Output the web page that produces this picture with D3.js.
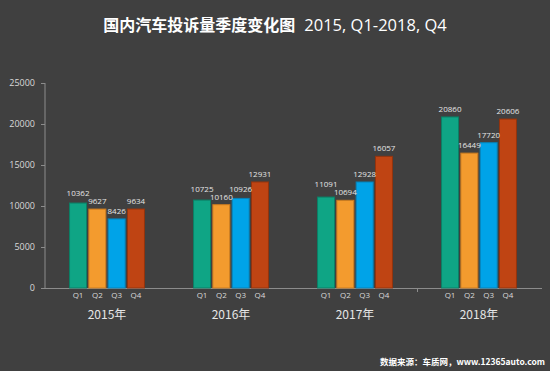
<!DOCTYPE html>
<html>
<head>
<meta charset="utf-8">
<script src="https://cdn.jsdelivr.net/npm/d3@7"></script>
<style>
  html, body { margin: 0; padding: 0; background: #404040; }
  svg { display: block; }
  text { font-family: "Noto Sans CJK SC", "Noto Sans", sans-serif; }
</style>
</head>
<body>
<div id="chart"></div>
<script>
var years = ['2015年', '2016年', '2017年', '2018年'];
var quarters = ['Q1', 'Q2', 'Q3', 'Q4'];
var values_2015 = [10362, 9627, 8426, 9634];
var values_2016 = [10725, 10160, 10926, 12931];
var values_2017 = [11091, 10694, 12928, 16057];
var values_2018 = [20860, 16449, 17720, 20606];
var y_ticks = [0, 5000, 10000, 15000, 20000, 25000];
var quarter_colors = ['#0fa585', '#f39b2e', '#00a3e8', '#bf4413'];
var quarter_strokes = ['#0b7f66', '#c97a1f', '#0782b8', '#93340e'];

var WIDTH = 550, HEIGHT = 371;

var table = [values_2015, values_2016, values_2017, values_2018].map(function(vals, i){
    return { year: years[i], values: vals.map(function(v, j){ return { q: quarters[j], v: v }; }) };
});

var svg = d3.select('#chart').append('svg')
    .attr('width', WIDTH)
    .attr('height', HEIGHT);

svg.append('rect')
    .attr('width', WIDTH).attr('height', HEIGHT)
    .attr('fill', '#404040');

// title
var title = svg.append('text')
    .attr('x', 275).attr('y', 31)
    .attr('text-anchor', 'middle')
    .attr('fill', '#ffffff')
    .style('font-size', '16px');
title.append('tspan').style('font-weight', 'bold').text('国内汽车投诉量季度变化图');
title.append('tspan').attr('dx', 9)
    .style('font-family', '"Open Sans", sans-serif')
    .style('font-size', '16.5px')
    .text('2015,  Q1-2018,  Q4');

var x = d3.scaleBand().domain(years).range([45, 541]).paddingInner(0).paddingOuter(0);
var xq = d3.scaleBand().domain(quarters).range([0, x.bandwidth()]).paddingInner(0.12).paddingOuter(1.27);
var y = d3.scaleLinear().domain([0, 25000]).range([288, 83]);

// y axis
var y_axis = svg.append('g').attr('transform', 'translate(45,0)')
    .call(d3.axisLeft(y).tickValues(y_ticks).tickSize(4).tickPadding(6).tickFormat(d3.format('d')));
y_axis.selectAll('.domain, line').attr('stroke', '#8c8c8c');
y_axis.select('.domain').attr('d', 'M0,' + y(25000) + 'V' + y(0));
y_axis.selectAll('text')
    .attr('fill', '#d9d9d9')
    .style('font-size', '9px')
    .style('font-family', '"Open Sans", sans-serif');

// x axis line
svg.append('line')
    .attr('x1', 45).attr('x2', 542)
    .attr('y1', y(0) + 0.5).attr('y2', y(0) + 0.5)
    .attr('stroke', '#8c8c8c');
svg.append('line')
    .attr('x1', x('2018年') + 0.5).attr('x2', x('2018年') + 0.5)
    .attr('y1', y(0)).attr('y2', y(0) + 4)
    .attr('stroke', '#8c8c8c');

var groups = svg.selectAll('g.year')
    .data(table).enter().append('g')
    .attr('class', 'year')
    .attr('transform', function(d){ return 'translate(' + x(d.year) + ',0)'; });

groups.selectAll('rect')
    .data(function(d){ return d.values; })
    .enter().append('rect')
    .attr('x', function(d){ return xq(d.q); })
    .attr('y', function(d){ return y(d.v); })
    .attr('width', xq.bandwidth())
    .attr('height', function(d){ return y(0) - y(d.v); })
    .attr('fill', function(d, i){ return quarter_colors[i]; })
    .attr('stroke', function(d, i){ return quarter_strokes[i]; })
    .attr('stroke-width', 1);

var labels = groups.selectAll('text.val')
    .data(function(d){ return d.values; })
    .enter().append('text')
    .attr('class', 'val')
    .attr('x', function(d){ return xq(d.q) + xq.bandwidth() / 2; })
    .attr('y', function(d){ return y(d.v) - 5; })
    .attr('text-anchor', 'middle')
    .attr('fill', '#e6e6e6')
    .style('font-size', '8px')
    .style('font-family', '"Open Sans", sans-serif')
    .text(function(d){ return d.v; });

// push up labels that collide with their neighbour
groups.each(function(){
    var nodes = d3.select(this).selectAll('text.val').nodes();
    for(var i = 1; i < nodes.length; i++){
        var a = nodes[i - 1], b = nodes[i];
        var ax = +a.getAttribute('x'), bx = +b.getAttribute('x');
        var ay = +a.getAttribute('y'), by = +b.getAttribute('y');
        var overlap_x = (ax + a.getComputedTextLength() / 2) > (bx - b.getComputedTextLength() / 2);
        if(overlap_x && Math.abs(ay - by) < 8){
            if(ay <= by) a.setAttribute('y', by - 8);
            else b.setAttribute('y', ay - 8);
        }
    }
});

groups.selectAll('text.q')
    .data(function(d){ return d.values; })
    .enter().append('text')
    .attr('class', 'q')
    .attr('x', function(d){ return xq(d.q) + xq.bandwidth() / 2; })
    .attr('y', 298)
    .attr('text-anchor', 'middle')
    .attr('fill', '#d9d9d9')
    .style('font-size', '8px')
    .style('font-family', '"Open Sans", sans-serif')
    .text(function(d){ return d.q; });

groups.append('text')
    .attr('x', x.bandwidth() / 2)
    .attr('y', 319)
    .attr('text-anchor', 'middle')
    .attr('fill', '#e6e6e6')
    .style('font-size', '12px')
    .text(function(d){ return d.year; });

// source note
svg.append('text')
    .attr('x', 545).attr('y', 365)
    .attr('text-anchor', 'end')
    .attr('fill', '#ffffff')
    .style('font-size', '8.5px')
    .style('font-weight', 'bold')
    .text('数据来源：车质网，www.12365auto.com');
</script>
</body>
</html>
